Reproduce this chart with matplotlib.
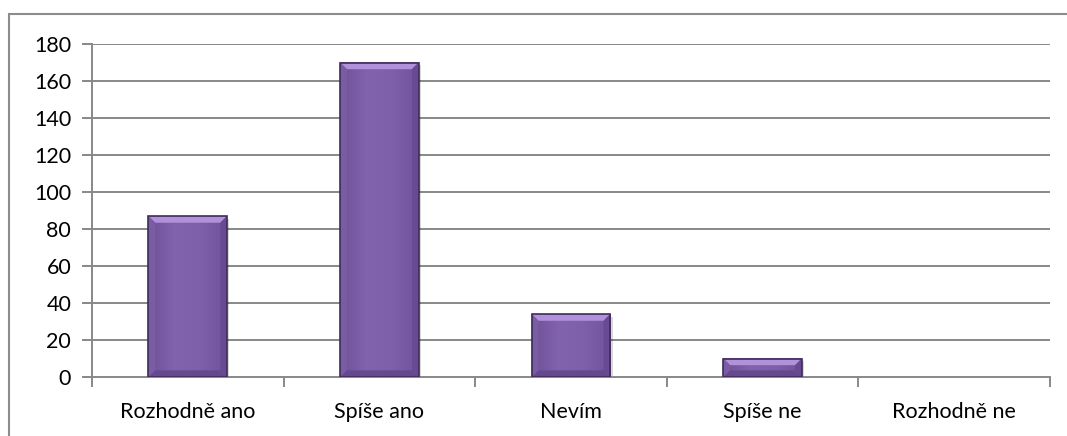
import numpy as np
import matplotlib.pyplot as plt
from matplotlib.patches import Rectangle, Polygon
from matplotlib.colors import LinearSegmentedColormap

categories = ['Rozhodně ano', 'Spíše ano', 'Nevím', 'Spíše ne', 'Rozhodně ne']
values = [87, 170, 34, 10, 0]
y_ticks = [0, 20, 40, 60, 80, 100, 120, 140, 160, 180]

plt.rcParams['font.family'] = ['Lato', 'DejaVu Sans']

fig = plt.figure(figsize=(10.67, 4.36), dpi=100)
ax = fig.add_axes([0.0862, 0.1353, 0.8978, 0.7637])

# rámeček kolem celého grafu
fig.patches.append(Rectangle((9 / 1067, -0.2), 1.2, 0.2 + (436 - 14) / 436,
                             transform=fig.transFigure, fill=False,
                             edgecolor='#8c8c8c', lw=1.5, zorder=0))

grid_c = '#888888'
ax.set_xlim(-0.5, len(categories) - 0.5)
ax.set_ylim(0, 180)
ax.set_yticks(y_ticks)
ax.set_xticks(np.arange(len(categories)))
ax.set_xticklabels(categories)
ax.set_xticks(np.arange(len(categories) + 1) - 0.5, minor=True)
for y in y_ticks[1:]:
    ax.axhline(y, color=grid_c, lw=1.4, zorder=1)

for s in ['top', 'right']:
    ax.spines[s].set_visible(False)
for s in ['left', 'bottom']:
    ax.spines[s].set_color(grid_c)
    ax.spines[s].set_linewidth(1.4)
ax.tick_params(axis='y', length=7, width=1.4, color=grid_c, pad=8, labelsize=15.5)
ax.tick_params(axis='x', which='major', length=0, pad=18, labelsize=15.5)
ax.tick_params(axis='x', which='minor', length=7, width=1.4, color=grid_c)

# sloupce s přechodem a zkosením okrajů
w = 0.41
cmap = LinearSegmentedColormap.from_list('fialova', ['#6f5098', '#8163ad', '#7e5fa9', '#71529b'])
grad = np.linspace(0, 1, 64).reshape(1, -1)
bx = 0.035
by = 3.6
for i, v in enumerate(values):
    if v <= 0:
        continue
    x0 = i - w / 2
    x1 = x0 + w
    # stín
    ax.add_patch(Rectangle((x0 + 0.012, -1.5), w, v, color='#000000', alpha=0.15, lw=0, zorder=2))
    ax.imshow(grad, cmap=cmap, extent=[x0, x1, 0, v], aspect='auto', zorder=3, interpolation='bicubic')
    byy = min(by, v / 2)
    ax.add_patch(Polygon([(x0, v), (x1, v), (x1 - bx, v - byy), (x0 + bx, v - byy)],
                         closed=True, color='#b191da', lw=0, zorder=3.5))
    ax.add_patch(Polygon([(x0, 0), (x1, 0), (x1 - bx, byy), (x0 + bx, byy)],
                         closed=True, color='#66488f', lw=0, zorder=3.5))
    ax.add_patch(Polygon([(x0, 0), (x0, v), (x0 + bx, v - byy), (x0 + bx, byy)],
                         closed=True, color='#7a5ca5', lw=0, zorder=3.5))
    ax.add_patch(Polygon([(x1, 0), (x1, v), (x1 - bx, v - byy), (x1 - bx, byy)],
                         closed=True, color='#684a92', lw=0, zorder=3.5))
    ax.add_patch(Rectangle((x0, 0), w, v, fill=False, edgecolor='#3e2d58', lw=1.2, zorder=4))

ax.set_xlim(-0.5, len(categories) - 0.5)
ax.set_ylim(0, 180)

fig.savefig('out.png', dpi=100)
